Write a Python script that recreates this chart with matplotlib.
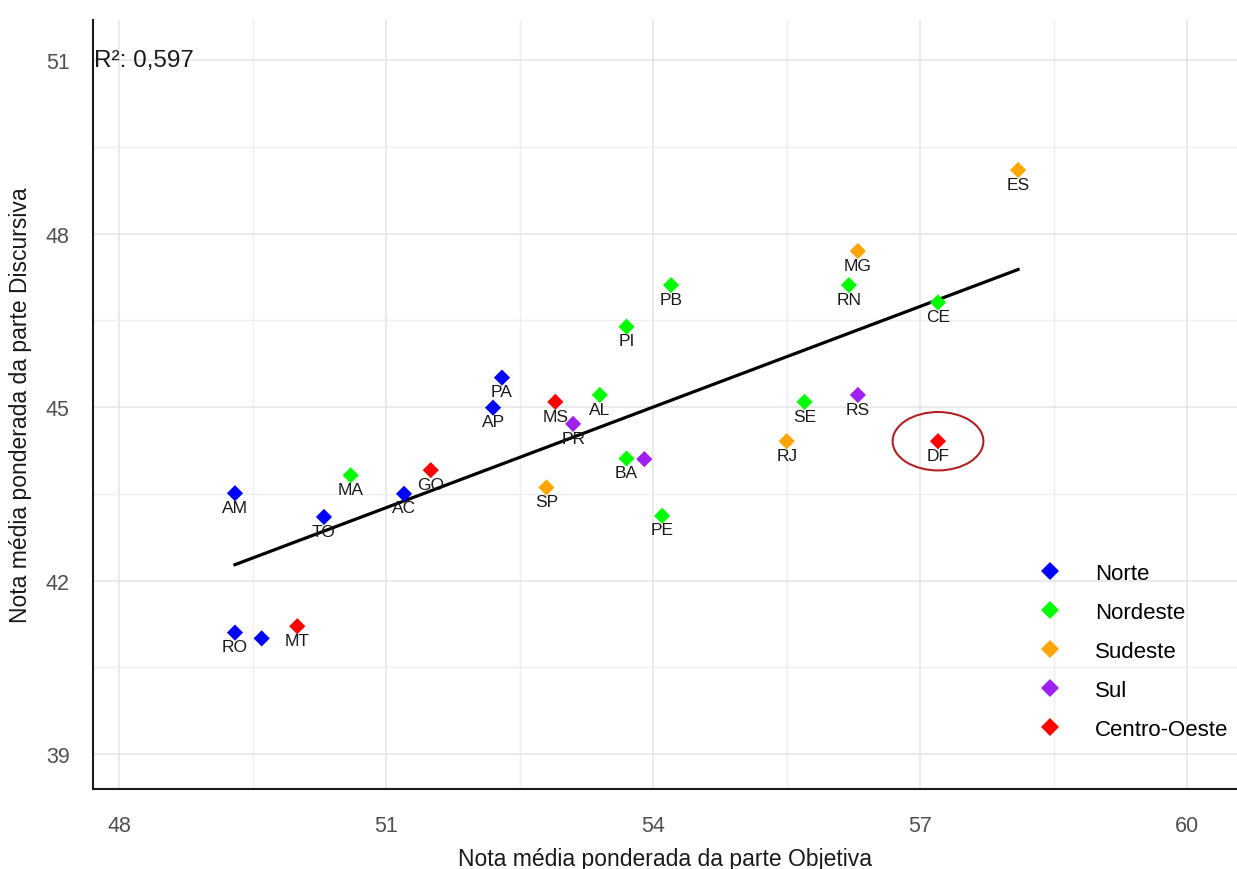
import numpy as np
import matplotlib
matplotlib.use("Agg")
import matplotlib.pyplot as plt
from matplotlib.patches import Ellipse
from matplotlib.lines import Line2D
from matplotlib.transforms import blended_transform_factory

plt.rcParams['font.family'] = ['Liberation Sans', 'DejaVu Sans']

# ---- data ----
states = ["AM", "RO", "RR", "TO", "AC", "PA", "AP",
          "MA", "PI", "CE", "RN", "PB", "PE", "AL", "SE", "BA",
          "SP", "RJ", "MG", "ES",
          "PR", "SC", "RS",
          "MS", "MT", "GO", "DF"]
regions = ["Norte"] * 7 + ["Nordeste"] * 9 + ["Sudeste"] * 4 + ["Sul"] * 3 + ["Centro-Oeste"] * 4
objetiva = [49.30, 49.30, 49.60, 50.30, 51.20, 52.30, 52.20,
            50.60, 53.70, 57.20, 56.20, 54.20, 54.10, 53.40, 55.70, 53.70,
            52.80, 55.50, 56.30, 58.10,
            53.10, 53.90, 56.30,
            52.90, 50.00, 51.50, 57.20]
discursiva = [43.51, 41.10, 41.00, 43.10, 43.50, 45.51, 44.99,
              43.82, 46.39, 46.81, 47.11, 47.11, 43.12, 45.21, 45.09, 44.11,
              43.61, 44.41, 47.70, 49.10,
              44.71, 44.10, 45.21,
              45.09, 41.21, 43.91, 44.41]
unlabeled = ["RR", "SC"]
highlight = "DF"
region_order = ["Norte", "Nordeste", "Sudeste", "Sul", "Centro-Oeste"]
region_colors = {"Norte": "#0000FF", "Nordeste": "#00FF00", "Sudeste": "#FFA500",
                 "Sul": "#A020F0", "Centro-Oeste": "#FF0000"}
r2_text = "R²: 0,597"
xticks = [48, 51, 54, 57, 60]
yticks = [39, 42, 45, 48, 51]

x = np.array(objetiva)
y = np.array(discursiva)

W, H = 1237, 870
fig = plt.figure(figsize=(W / 100, H / 100), dpi=100)
ax = fig.add_axes([93.3 / W, 1 - 790 / H, 1 - 93.3 / W, (790 - 20.7) / H])

# grid
ax.set_xticks(xticks)
ax.set_yticks(yticks)
ax.set_xticks([v + 1.5 for v in xticks[:-1]], minor=True)
ax.set_yticks([v + 1.5 for v in yticks[:-1]], minor=True)
ax.set_xlim(47.708, 60.56)
ax.set_ylim(38.395, 51.70)
ax.grid(which='major', color='#E6E6E6', lw=1.2, zorder=0)
ax.grid(which='minor', color='#EEEEEE', lw=1.0, zorder=0)
ax.set_axisbelow(True)
ax.tick_params(which='both', length=0)
ax.tick_params(axis='x', pad=19, labelsize=15.5, labelcolor='#505050')
ax.tick_params(axis='y', pad=17, labelsize=15.5, labelcolor='#505050')
for s in ['top', 'right']:
    ax.spines[s].set_visible(False)
for s in ['left', 'bottom']:
    ax.spines[s].set_color('#1a1a1a')
    ax.spines[s].set_linewidth(1.5)

# regression line
coef = np.polyfit(x, y, 1)
xl = np.array([x.min(), x.max()])
ax.plot(xl, np.polyval(coef, xl), color='black', lw=2.3, zorder=3)

# points
for reg in region_order:
    idx = [i for i, r in enumerate(regions) if r == reg]
    ax.scatter(x[idx], y[idx], marker='D', s=68, color=region_colors[reg],
               edgecolors='none', zorder=4, label=reg)

# labels
for i, st in enumerate(states):
    if st in unlabeled:
        continue
    ax.annotate(st, (x[i], y[i]), xytext=(0, -10.2), textcoords='offset points',
                ha='center', va='center', fontsize=12.5, color='#1a1a1a', zorder=5)

# highlight ellipse
hi = states.index(highlight)
ax.add_patch(Ellipse((x[hi], y[hi]), width=1.02, height=1.01, fill=False,
                     edgecolor='#B22222', lw=1.5, zorder=5))

# R2 annotation
trans = blended_transform_factory(ax.transAxes, ax.transData)
ax.text(0.001, yticks[-1], r2_text, transform=trans, ha='left', va='center',
        fontsize=17.5, color='#1a1a1a')

# legend
handles = [Line2D([], [], marker='D', ls='none', color=region_colors[r], markersize=9.6,
                  markeredgewidth=0) for r in region_order]
ax.legend(handles, region_order, loc='center left', bbox_to_anchor=(0.8076, 0.1786),
          frameon=False, fontsize=16, handletextpad=1.4, labelspacing=0.81,
          handlelength=1.2)

ax.set_xlabel("Nota média ponderada da parte Objetiva", fontsize=16.5, color='#1a1a1a', labelpad=8)
ax.set_ylabel("Nota média ponderada da parte Discursiva", fontsize=16.5, color='#1a1a1a', labelpad=10)

fig.savefig("out.png", dpi=100)
